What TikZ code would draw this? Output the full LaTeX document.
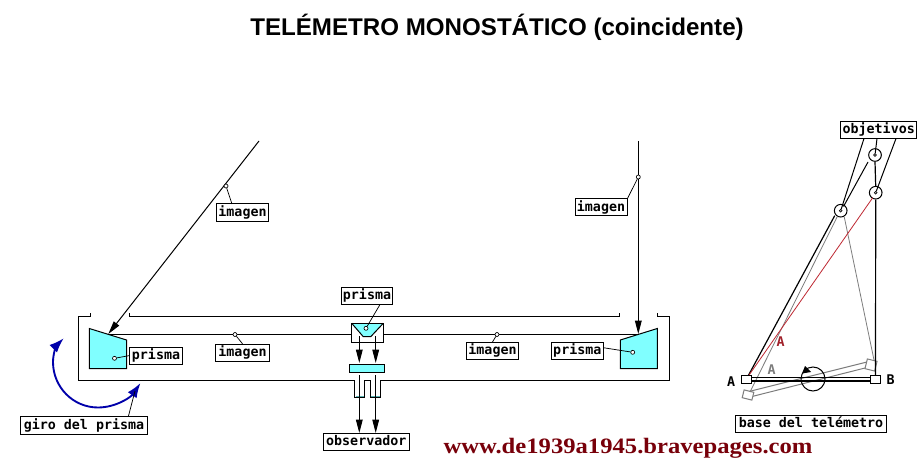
\documentclass[tikz,border=0pt]{standalone}
\usepackage{fontspec}
\setmainfont{Liberation Sans}
\newfontfamily\labelfont{DejaVu Sans Mono}
\newfontfamily\urlfont[FakeStretch=1.12]{Liberation Serif}
\usetikzlibrary{arrows.meta}
\definecolor{cyanfill}{RGB}{128,255,255}
\definecolor{darkred}{RGB}{120,0,10}
\definecolor{arcblue}{RGB}{0,0,170}
\definecolor{redline}{RGB}{190,40,50}
\definecolor{grayline}{RGB}{125,125,125}
\tikzset{
  ln/.style={line width=0.75pt,black},
  thin leader/.style={line width=0.55pt,black},
  glass/.style={draw=black,line width=0.75pt,fill=cyanfill},
  tag/.style={draw=black,line width=0.75pt,fill=white,inner sep=0pt,minimum height=12.75pt,font=\labelfont\bfseries\fontsize{10}{11}\selectfont,text height=7pt,text depth=1.5pt},
  bigtip/.style={-{Triangle[length=10pt,width=5pt]}},
  dotn/.style={circle,draw=black,fill=white,line width=0.5pt,inner sep=0pt,minimum size=3pt},
  lens/.style={circle,draw=black,fill=white,line width=0.75pt,inner sep=0pt,minimum size=9.5pt},
  pad/.style={draw=black,line width=0.75pt,fill=white,minimum width=7.5pt,minimum height=5.7pt,inner sep=0pt},
  plain/.style={font=\labelfont\bfseries\fontsize{10}{11}\selectfont,inner sep=0pt}
}
\begin{document}
\begin{tikzpicture}[x=0.75pt,y=-0.75pt]
\useasboundingbox (0,0) rectangle (923,470);
\fill[white] (0,0) rectangle (923,470);
% title and url
\node[font=\bfseries\fontsize{18.1}{20}\selectfont] (title) at (497,27) {TELÉMETRO MONOSTÁTICO (coincidente)};
\node[font=\urlfont\bfseries\fontsize{16.5}{20}\selectfont,text=darkred] (url) at (628,448) {www.de1939a1945.bravepages.com};
% housing
\draw[ln] (90,313) -- (90,316) -- (78,316) -- (78,380) -- (354.7,380) -- (354.7,397) -- (364,397) -- (364,380) -- (370,380) -- (370,397) -- (380.6,397) -- (380.6,380) -- (669,380) -- (669,316) -- (657,316) -- (657,313);
\draw[ln] (129,313) -- (129,316) -- (619,316) -- (619,313);
\draw[cyanfill!70!black,line width=0.75pt] (355.5,396) -- (363.5,396) (371,396) -- (380,396);
% prisms
\draw[glass] (89.3,328.5) -- (126.5,340) -- (126.5,368.5) -- (89.3,368.5) -- cycle;
\draw[glass] (620.3,340) -- (657.3,328.5) -- (657.3,368.5) -- (620.3,368.5) -- cycle;
\fill[cyanfill] (352,323.5) -- (383,323.5) -- (370.7,336.7) -- (363.3,336.7) -- cycle;
\draw[ln] (351.7,323.3) -- (363.3,336.7) -- (370.7,336.7) -- (383.3,323.3);
\draw[ln] (351.7,323.3) rectangle (383.3,342.3);
\node[glass,minimum width=26.5pt,minimum height=6.3pt,inner sep=0pt] (bar) at (367,368.5) {};
% main optical line
\coordinate (pl) at (108.3,334);
\coordinate (pr) at (638.3,334);
\draw[ln] (pl) -- (351.7,334);
\draw[ln] (383.3,334) -- (pr);
% incoming rays
\coordinate (rayL) at (259,141);
\coordinate (rayR) at (638.3,141);
\draw[ln,bigtip] (rayL) -- (pl);
\draw[ln,bigtip] (rayR) -- (pr);
% down arrows
\coordinate (d1) at (359.3,336);
\coordinate (d2) at (375.7,336);
\coordinate (e1) at (359.3,363);
\coordinate (e2) at (375.7,363);
\coordinate (f1) at (359.3,375);
\coordinate (f2) at (375.7,375);
\coordinate (g1) at (359.3,433);
\coordinate (g2) at (375.7,433);
\draw[ln,bigtip] (d1) -- (e1);
\draw[ln,bigtip] (d2) -- (e2);
\draw[ln,bigtip] (f1) -- (g1);
\draw[ln,bigtip] (f2) -- (g2);
\node[tag,minimum width=64.5pt] (obs) at (366.3,442.2) {observador};
% labels
\node[dotn] (di1) at (226,186) {};
\node[tag,minimum width=39pt] (im1) at (242.5,212.5) {imagen};
\coordinate (im1f) at (232,204);
\draw[thin leader] (di1) -- (im1f);
\node[dotn] (di2) at (638.3,177) {};
\node[tag,minimum width=39pt] (im2) at (601,207.5) {imagen};
\draw[thin leader] (di2) -- (im2.north east);
\node[dotn] (di3) at (235,334.5) {};
\node[tag,minimum width=40.5pt] (im3) at (242.5,352.8) {imagen};
\draw[thin leader] (di3) -- (im3.north);
\node[dotn] (di4) at (497,334.5) {};
\node[tag,minimum width=39pt] (im4) at (492.5,351) {imagen};
\draw[thin leader] (di4) -- (im4.north);
\node[dotn] (dp1) at (114.5,358.3) {};
\node[tag,minimum width=40pt] (pr1) at (156,355.7) {prisma};
\draw[thin leader] (dp1) -- (pr1.west);
\node[dotn] (dp2) at (632.7,352.3) {};
\node[tag,minimum width=39pt] (pr2) at (577.3,351) {prisma};
\coordinate (pr2f) at (603.3,347.7);
\draw[thin leader] (dp2) -- (pr2f);
\node[dotn] (dp3) at (366,328.3) {};
\node[tag,minimum width=38pt] (pr3) at (367,296.3) {prisma};
\coordinate (pr3f) at (380,304.5);
\draw[thin leader] (dp3) -- (pr3f);
% blue arrows
\coordinate (arcA) at (63.7,338.3);
\coordinate (arcB) at (140.5,383);
\draw[arcblue,line width=1.4pt,{Latex[length=11pt,width=8pt]}-{Latex[length=11pt,width=8pt]}] (arcA) .. controls (57,345) and (53,353) .. (53,362) .. controls (53,387) and (73,407.5) .. (98,407.5) .. controls (116,407.5) and (131,397) .. (arcB);
\node[tag,minimum width=94.7pt,minimum height=13.5pt] (giro) at (84,425.8) {giro del prisma};
\coordinate (giroS) at (128.3,416.7);
\coordinate (giroE) at (135,391);
\draw[thin leader] (giroS) -- (giroE);
% right-hand scheme: gray rotated base
\draw[grayline,line width=0.75pt] (743,393) -- (867,362) (750,397) -- (873,366);
\draw[grayline,line width=0.75pt,fill=white,rotate around={-14:(748,395)}] (743,391) rectangle (753,399);
\draw[grayline,line width=0.75pt,fill=white,rotate around={-14:(871,365)}] (866,360) rectangle (876,370);
% rays
\node[lens] (l1) at (875,155) {};
\node[lens] (l2) at (875.7,192.7) {};
\node[lens] (l3) at (840.7,210.7) {};
\node[dotn,minimum size=2pt] (c1) at (l1) {};
\node[dotn,minimum size=2pt] (c2) at (l2) {};
\node[dotn,minimum size=2pt] (c3) at (l3) {};
\coordinate (Aa) at (747,378);
\coordinate (Bb) at (875.5,378);
\coordinate (Ag) at (750,392);
\coordinate (Bg) at (874,360);
\draw[grayline,line width=0.6pt] (l3) ++(-3.5,6) -- (Ag);
\draw[grayline,line width=0.6pt] (l3) ++(3.5,6) -- (Bg);
\draw[black,line width=0.9pt] (l3) ++(-6,5) -- (Aa);
\draw[redline,line width=0.6pt] (l2) ++(-3,5) -- (Aa);
\draw[black,line width=0.9pt] (l1.south) -- (l2.north);
\draw[black,line width=0.9pt] (l2.south) -- (Bb);
\draw[black,line width=0.75pt] (l1) ++(-7,7) -- (843.5,206.5);
% base
\draw[black,line width=0.75pt] (813,379) circle (12);
\draw[black,line width=1pt] (752,377.5) -- (870,377.5) (752,381) -- (870,381);
\node[pad] (bA) at (746.7,379.5) {};
\node[pad] (bB) at (875.7,379.5) {};
\fill[black] (802,373.5) -- (805,366) -- (811,372) -- cycle;
% letters
\node[plain] (ta) at (731,381.5) {A};
\node[plain] (tb) at (890.7,379.5) {B};
\node[plain,text=redline!85!black] (tra) at (780.7,341.7) {A};
\node[plain,text=grayline] (tga) at (771.7,370) {A};
% objetivos
\node[tag,minimum width=57pt] (obj) at (878.7,130) {objetivos};
\coordinate (o1) at (864,138.5);
\coordinate (o2) at (877,138.5);
\coordinate (o3) at (896,138.5);
\draw[ln] (o1) -- (c3);
\draw[ln] (o2) -- (c1);
\draw[ln] (o3) -- (c2);
\node[tag,minimum width=113.5pt] (base) at (811,423.7) {base del telémetro};
\end{tikzpicture}
\end{document}
